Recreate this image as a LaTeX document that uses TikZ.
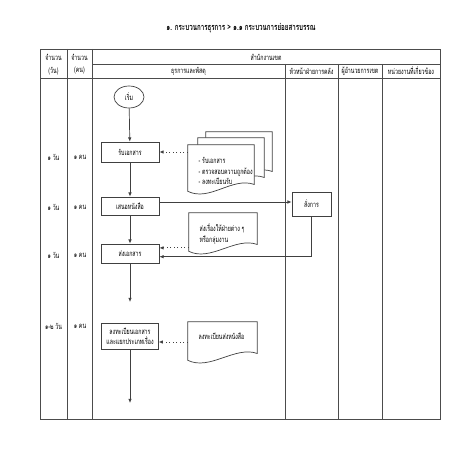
\documentclass[tikz,border=0pt]{standalone}
\usepackage{fontspec}
\setmainfont[Script=Thai, FakeStretch=0.68]{Loma}
\usetikzlibrary{calc,arrows.meta,shapes.geometric}

% document shape with a wavy bottom, drawn round a node
\newcommand\wavedoc[2][]{%
\draw[#1] (#2.north west) -- (#2.north east) -- ([yshift=0.22cm]#2.south east)
  .. controls ([xshift=-0.55cm,yshift=0.42cm]#2.south east) and ([xshift=0.55cm,yshift=-0.22cm]#2.south west) .. ([yshift=0.05cm]#2.south west) -- cycle;}

\tikzset{
  tline/.style={black!70, line width=0.6pt},
  txt/.style={font=\fontsize{5.5}{6.5}\selectfont, inner sep=0pt},
  procbox/.style={draw, black!75, text=black, line width=0.5pt, minimum width=1.45cm, font=\fontsize{5.5}{7}\selectfont, align=center},
  docbox/.style={minimum width=1.65cm, minimum height=1.2cm, inner sep=0pt},
  doctext/.style={anchor=north west, font=\fontsize{5.5}{7.5}\selectfont, align=left, xshift=0.15cm, yshift=-0.15cm},
  flow/.style={black!75, line width=0.5pt, -{Latex[length=3pt,width=2.5pt]}},
  flowdot/.style={flow, dotted, line width=0.6pt}
}

\begin{document}
\begin{tikzpicture}[x=0.025cm, y=-0.025cm]
\useasboundingbox (0,0) rectangle (452,452);

% title
\node[font=\fontsize{6.5}{8}\selectfont\bfseries] (title) at (241,28) {๑. กระบวนการธุรการ > ๑.๑ กระบวนการย่อยสารบรรณ};

% table
\draw[tline] (40,49) rectangle (440,419);
\draw[tline] (67,49) -- (67,419);
\draw[tline] (92,49) -- (92,419);
\draw[tline] (92,64) -- (440,64);
\draw[tline] (40,78) -- (440,78);
\draw[tline] (285,64) -- (285,419);
\draw[tline] (338,64) -- (338,419);
\draw[tline] (382,64) -- (382,419);

% headers
\node[txt] (hday1) at (53.5,57) {จำนวน};
\node[txt] (hday2) at (53.5,71) {(วัน)};
\node[txt] (hman1) at (79.5,57) {จำนวน};
\node[txt] (hman2) at (79.5,71) {(คน)};
\node[txt] (hoff) at (266,57) {สำนักงานเขต};
\node[txt] (hadm) at (188.5,71) {ธุรการและพัสดุ};
\node[txt] (hhead) at (311.5,71) {หัวหน้าฝ่ายการคลัง};
\node[txt] (hdir) at (360,71) {ผู้อำนวยการเขต};
\node[txt] (hrel) at (411,71) {หน่วยงานที่เกี่ยวข้อง};

% days and persons
\node[txt] (day1) at (53.5,157) {๑ วัน};
\node[txt] (man1) at (80,157) {๑ คน};
\node[txt] (day2) at (53.5,207) {๑ วัน};
\node[txt] (man2) at (80,207) {๑ คน};
\node[txt] (day3) at (53.5,255) {๑ วัน};
\node[txt] (man3) at (80,255) {๑ คน};
\node[txt] (day4) at (53.5,326) {๑-๒ วัน};
\node[txt] (man4) at (80,326) {๑ คน};

% process
\node[draw, black!75, text=black, line width=0.5pt, ellipse, minimum width=0.75cm, minimum height=0.55cm, inner sep=0pt, font=\fontsize{5.5}{6}\selectfont] (start) at (129,97) {เริ่ม};
\node[procbox, minimum height=0.5cm] (recv) at (130,152) {รับเอกสาร};
\node[procbox, minimum height=0.45cm] (propose) at (130,206) {เสนอหนังสือ};
\node[procbox, minimum height=0.475cm] (send) at (130,253.5) {ส่งเอกสาร};
\node[procbox, minimum height=0.65cm, minimum width=1.4cm] (reg) at (130,336) {ลงทะเบียนเอกสาร\\และแยกประเภทเรื่อง};
\node[procbox, minimum height=0.6cm, minimum width=0.975cm] (order) at (311.5,204) {สั่งการ};

% documents
\node[docbox] (d1) at (221,169) {};
\node[docbox] (d1b) at ($(d1)+(10,-7)$) {};
\node[docbox] (d1c) at ($(d1)+(18,-13)$) {};
\wavedoc[black!75, fill=white, line width=0.5pt]{d1c}
\wavedoc[black!75, fill=white, line width=0.5pt]{d1b}
\wavedoc[black!75, fill=white, line width=0.5pt]{d1}
\node[doctext, yshift=-0.05cm] at (d1.north west) {- รับเอกสาร\\- ตรวจสอบความถูกต้อง\\- ลงทะเบียนรับ};

\node[docbox, minimum width=1.7cm, minimum height=1.0cm] (d2) at (223,233) {};
\wavedoc[black!75, line width=0.5pt]{d2}
\node[doctext] at (d2.north west) {ส่งเรื่องให้ฝ่ายต่าง ๆ\\หรือกลุ่มงาน};

\node[docbox, minimum width=1.725cm, minimum height=1.0cm] (d3) at (222.5,342) {};
\wavedoc[black!75, line width=0.5pt]{d3}
\node[doctext] at (d3.north west) {ลงทะเบียนส่งหนังสือ};

% connectors
\coordinate (end1) at (130,302);
\coordinate (end2) at (130,403);
\coordinate (s1) at ([yshift=0.14cm]send.east);
\coordinate (s2) at ([yshift=-0.08cm]send.east);
\coordinate (r1) at ([yshift=-0.15cm]reg.east);
\draw[flow] (start) -- (recv);
\draw[flow] (recv) -- (propose);
\draw[flow] (propose) -- (send);
\draw[flow] (send) -- (end1);
\draw[flow] (reg) -- (end2);
\draw[flowdot] (recv -| d1.west) -- (recv.east);
\draw[flow] ([yshift=0.1cm]propose.east) -- ([yshift=0.1cm]propose.east -| order.west);
\draw[flow] (order.south) |- (s2);
\draw[flowdot] (s1 -| d2.west) -- (s1);
\draw[flowdot] (r1 -| d3.west) -- (r1);
\end{tikzpicture}
\end{document}
